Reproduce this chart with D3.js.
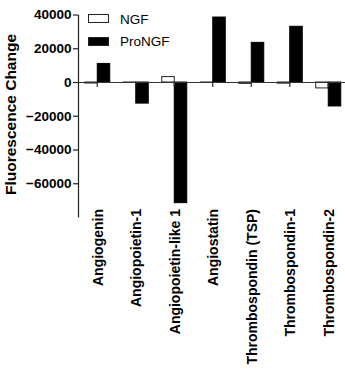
<!DOCTYPE html>
<html>
<head>
<meta charset="utf-8">
<script src="https://cdn.jsdelivr.net/npm/d3@7"></script>
<style>
  body { margin: 0; background: #fff; }
  text { font-family: Arial, "Liberation Sans", sans-serif; }
</style>
</head>
<body>
<svg id="chart" width="345" height="369"></svg>
<script>
// data
const categories = ["Angiogenin", "Angiopoietin-1", "Angiopoietin-like 1", "Angiostatin",
  "Thrombospondin (TSP)", "Thrombospondin-1", "Thrombospondin-2"];
const ngf = [-600, -300, 3200, -100, -800, -700, -3500];
const proNgf = [11000, -12500, -71500, 38500, 23500, 33000, -14200];
const seriesNames = ["NGF", "ProNGF"];
const yTicks = [40000, 20000, 0, -20000, -40000, -60000];

const svg = d3.select("#chart");

const x = d3.scaleBand().domain(categories).range([78, 347.5]);
const y = d3.scaleLinear().domain([-80000, 40000]).range([217, 14.5]);
const barW = 12.5;

// y axis
const yAxis = svg.append("g")
  .attr("transform", "translate(78,0)")
  .call(d3.axisLeft(y).tickValues(yTicks).tickSize(5).tickSizeOuter(0).tickFormat(d3.format("d")));
yAxis.select(".domain").attr("stroke", "#222").attr("stroke-width", 1.2);
yAxis.selectAll(".tick line").attr("stroke", "#222").attr("stroke-width", 1.2);
yAxis.selectAll(".tick text")
  .attr("x", -6.5)
  .attr("font-size", 13.5).attr("font-weight", "bold").attr("fill", "#000")
  .attr("font-family", "Arial, 'Liberation Sans', sans-serif");

// y label
svg.append("text")
  .attr("transform", "translate(15.5,114.5) rotate(-90)")
  .attr("text-anchor", "middle")
  .attr("font-size", 15.5).attr("font-weight", "bold")
  .text("Fluorescence Change");

// bars
const g = svg.append("g");
g.selectAll(".ngf").data(categories).enter().append("rect")
  .attr("x", d => x(d) + x.bandwidth() / 2 - barW)
  .attr("width", barW)
  .attr("y", (d, i) => Math.min(y(ngf[i]), y(0)))
  .attr("height", (d, i) => Math.abs(y(ngf[i]) - y(0)))
  .attr("fill", "#fff").attr("stroke", "#222").attr("stroke-width", 1);
g.selectAll(".pro").data(categories).enter().append("rect")
  .attr("x", d => x(d) + x.bandwidth() / 2)
  .attr("width", barW)
  .attr("y", (d, i) => Math.min(y(proNgf[i]), y(0)))
  .attr("height", (d, i) => Math.abs(y(proNgf[i]) - y(0)))
  .attr("fill", "#000").attr("stroke", "#000").attr("stroke-width", 1);

// zero axis with category ticks
const xAxis = svg.append("g")
  .attr("transform", `translate(0,${y(0)})`)
  .call(d3.axisBottom(x).tickSize(5).tickSizeOuter(0).tickFormat(""));
xAxis.select(".domain").attr("stroke", "#333").attr("stroke-width", 1.2);
xAxis.selectAll(".tick line").attr("stroke", "#333").attr("stroke-width", 1.2);

// category labels
svg.selectAll(".cat").data(categories).enter().append("text")
  .attr("transform", d => `translate(${x(d) + x.bandwidth() / 2 + 5.5},209) rotate(-90)`)
  .attr("text-anchor", "end")
  .attr("font-size", 14).attr("font-weight", "bold")
  .text(d => d);

// legend
const legend = svg.append("g");
seriesNames.forEach((name, i) => {
  legend.append("rect")
    .attr("x", 88.5).attr("y", 14.5 + i * 23)
    .attr("width", 20).attr("height", 8)
    .attr("fill", i === 0 ? "#fff" : "#000")
    .attr("stroke", "#222").attr("stroke-width", 1);
  legend.append("text")
    .attr("x", 120).attr("y", 24 + i * 22)
    .attr("font-size", 13.5)
    .text(name);
});
</script>
</body>
</html>
